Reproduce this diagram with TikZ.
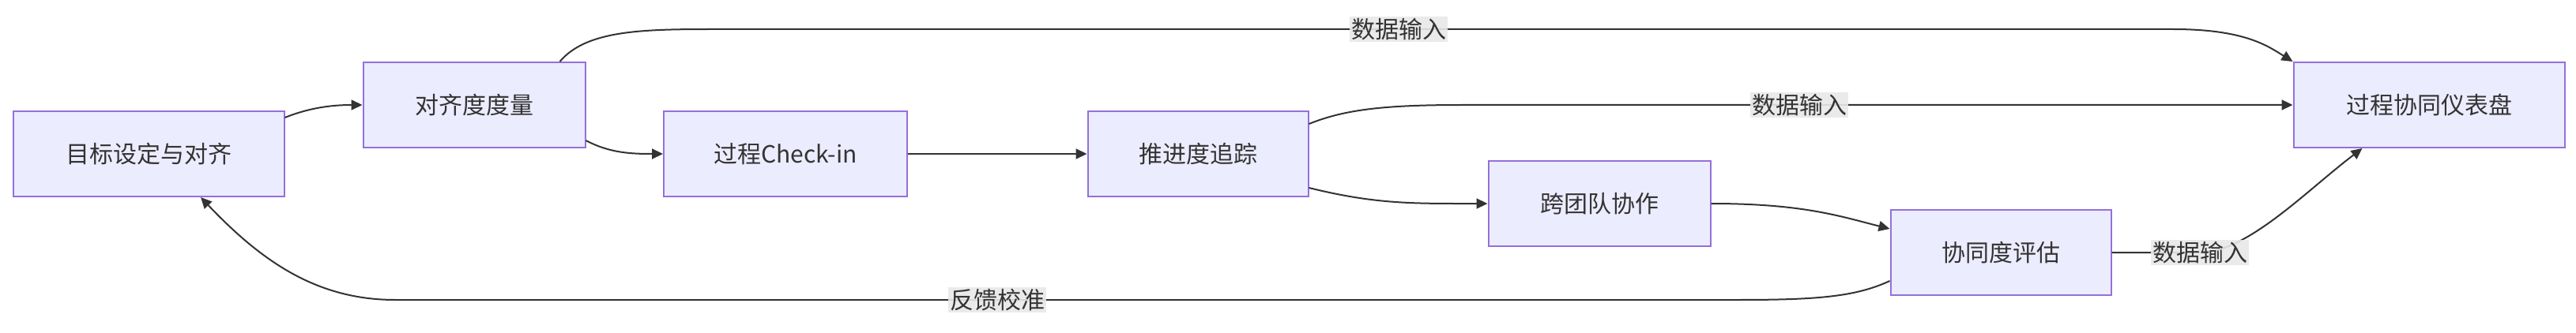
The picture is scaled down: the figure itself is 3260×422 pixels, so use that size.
\documentclass[tikz,border=0pt]{standalone}
\usepackage{fontspec}
\setmainfont{Noto Sans CJK SC}
\usetikzlibrary{arrows.meta,calc}
\definecolor{edgec}{HTML}{333333}
\definecolor{nfill}{HTML}{ECECFF}
\definecolor{nbord}{HTML}{9370DB}
\definecolor{lbl}{HTML}{E8E8E8}
\begin{document}
\begin{tikzpicture}[x=1pt,y=-1pt,
  box/.style={draw=nbord,fill=nfill,line width=2pt,minimum height=108pt,inner sep=0pt,font=\fontsize{30}{36}\selectfont,text=edgec},
  conn/.style={draw=edgec,line width=2pt,-{Triangle[length=14pt,width=13pt]}},
  elabel/.style={fill=lbl,fill opacity=0.9,text opacity=1,inner sep=2pt,font=\fontsize{30}{36}\selectfont,text=edgec}]
\useasboundingbox (0,0) rectangle (3260,422);
\node[box,minimum width=343pt] (A) at (188,195) {目标设定与对齐};
\node[box,minimum width=281pt] (B) at (600,133) {对齐度度量};
\node[box,minimum width=308pt] (C) at (994,195) {过程Check-in};
\node[box,minimum width=279pt] (D) at (1516,195) {推进度追踪};
\node[box,minimum width=281pt] (E) at (2024,258) {跨团队协作};
\node[box,minimum width=279pt] (F) at (2532,320) {协同度评估};
\node[box,minimum width=343pt] (G) at (3074,133) {过程协同仪表盘};
\coordinate (l1) at (1770,37);
\coordinate (l2) at (2277,133);
\coordinate (l3) at (2784,320);
\coordinate (l4) at (1262,380);
\draw[conn] ($(A.north east)+(0,9)$) .. controls +(30,-12) and +(-40,0) .. (B.west);
\draw[conn] ($(B.south east)+(0,-10)$) .. controls +(30,16) and +(-40,0) .. (C.west);
\draw[conn] (C.east) -- (D.west);
\draw[conn] ($(B.north east)+(-33,0)$) .. controls +(33,-39) and +(-90,0) .. (900,37) -- (l1) -- (2750,37) .. controls +(90,0) and +(-32,-20) .. (G.north west);
\draw[conn] ($(D.north east)+(0,17)$) .. controls +(45,-18) and +(-100,0) .. (1850,133) -- (l2) -- (G.west);
\draw[conn] ($(D.south east)+(0,-12)$) .. controls +(85,21) and +(-94,0) .. (E.west);
\draw[conn] (E.east) .. controls +(116,0) and +(-63,-16) .. ($(F.north west)+(0,25)$);
\draw[conn] (F.east) -- (l3) .. controls +(60,0) and +(-70,53) .. ($(G.south west)+(88,0)$);
\draw[conn] ($(F.south west)+(0,-19)$) .. controls +(-43,20) and +(100,0) .. (2200,380) -- (l4) -- (500,380) .. controls +(-100,0) and +(76,80) .. ($(A.south)+(66,0)$);
\node[elabel] at (l1) {数据输入};
\node[elabel] at (l2) {数据输入};
\node[elabel] at (l3) {数据输入};
\node[elabel] at (l4) {反馈校准};
\end{tikzpicture}
\end{document}
